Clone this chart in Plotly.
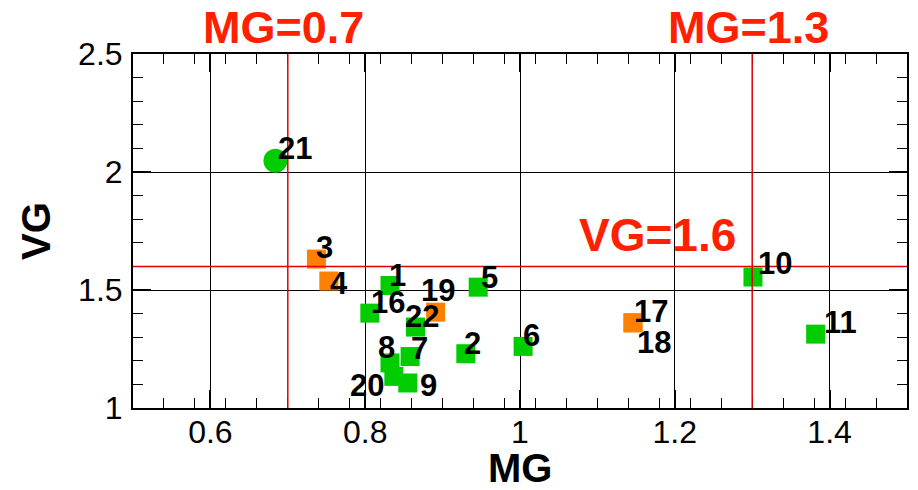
import plotly.graph_objects as go

# ---- data ----
labels = ["21", "3", "4", "1", "16", "19", "22", "5", "7", "2", "6", "8", "20", "9", "10", "17", "18", "11"]
mg = [0.684, 0.737, 0.753, 0.832, 0.806, 0.891, 0.865, 0.946, 0.858, 0.930, 1.004, 0.832, 0.837, 0.855, 1.301, 1.146, 1.146, 1.382]
vg = [2.048, 1.631, 1.538, 1.519, 1.402, 1.406, 1.343, 1.512, 1.218, 1.230, 1.261, 1.191, 1.134, 1.106, 1.555, 1.361, 1.361, 1.313]
groups = ["circle", "orange", "orange", "green", "green", "orange", "green", "green", "green", "green",
          "green", "green", "green", "green", "green", "orange", "orange", "green"]
mg_thresholds = [0.7, 1.3]
vg_threshold = 1.6
x_ticks = [0.6, 0.8, 1.0, 1.2, 1.4]
x_tick_text = ["0.6", "0.8", "1", "1.2", "1.4"]
y_ticks = [1, 1.5, 2, 2.5]
y_tick_text = ["1", "1.5", "2", "2.5"]

# label offsets in pixels (style)
label_shift = {
    "21": (20, 12), "3": (8, 12), "4": (10, -2), "1": (8, 10), "16": (18, 11),
    "19": (2, 22), "22": (6, 11), "5": (11, 10), "7": (9, 8), "2": (7, 10),
    "6": (8, 11), "8": (-3, 15), "20": (-27, -9), "9": (21, -3), "10": (22, 14),
    "17": (18, 11), "18": (21, -20), "11": (25, 12),
}

GREEN = "#00cc00"
ORANGE = "#ff8000"
RED = "#ff2000"
LINE_RED = "#e00000"
FONT = "Liberation Sans"

fig = go.Figure()

def subset(kind):
    xs = [x for x, g in zip(mg, groups) if g == kind]
    ys = [y for y, g in zip(vg, groups) if g == kind]
    return xs, ys

xs, ys = subset("green")
fig.add_trace(go.Scatter(x=xs, y=ys, mode="markers",
                         marker=dict(symbol="square", size=19, color=GREEN, line=dict(width=0))))
xs, ys = subset("orange")
fig.add_trace(go.Scatter(x=xs, y=ys, mode="markers",
                         marker=dict(symbol="square", size=19, color=ORANGE, line=dict(width=0))))
xs, ys = subset("circle")
fig.add_trace(go.Scatter(x=xs, y=ys, mode="markers",
                         marker=dict(symbol="circle", size=24, color=GREEN, line=dict(width=0))))

# reference lines
for t in mg_thresholds:
    fig.add_shape(type="line", x0=t, x1=t, y0=0, y1=1, xref="x", yref="paper",
                  line=dict(color=LINE_RED, width=1.5))
fig.add_shape(type="line", x0=0, x1=1, y0=vg_threshold, y1=vg_threshold, xref="paper", yref="y",
              line=dict(color=LINE_RED, width=1.5))

# point labels
for lab, x, y in zip(labels, mg, vg):
    dx, dy = label_shift[lab]
    fig.add_annotation(x=x, y=y, text=lab, showarrow=False, xanchor="center", yanchor="middle",
                       xshift=dx, yshift=dy,
                       font=dict(family=FONT, size=31, color="black", weight="bold"))

# threshold annotations
for t in mg_thresholds:
    fig.add_annotation(x=t, y=1, xref="x", yref="paper", text=f"MG={t}", showarrow=False,
                       xanchor="center", yanchor="middle", xshift=-4, yshift=27,
                       font=dict(family=FONT, size=45, color=RED, weight="bold"))
fig.add_annotation(x=1.177, y=1.731, xref="x", yref="y", text=f"VG={vg_threshold}", showarrow=False,
                   xanchor="center", yanchor="middle",
                   font=dict(family=FONT, size=46, color=RED, weight="bold"))

# axis titles
fig.add_annotation(x=0, y=0.5, xref="paper", yref="paper", text="VG", showarrow=False,
                   textangle=-90, xanchor="center", yanchor="middle", xshift=-97,
                   font=dict(family=FONT, size=40, color="black", weight="bold"))
fig.add_annotation(x=0.5, y=0, xref="paper", yref="paper", text="MG", showarrow=False,
                   xanchor="center", yanchor="middle", yshift=-60,
                   font=dict(family=FONT, size=40, color="black", weight="bold"))

axis_common = dict(
    showline=True, linecolor="black", linewidth=2, mirror="allticks",
    ticks="inside", ticklen=18, tickwidth=1.5, tickcolor="black",
    showgrid=True, gridcolor="black", gridwidth=1, zeroline=False,
    tickfont=dict(family=FONT, size=32, color="black"),
)

fig.update_xaxes(range=[0.5, 1.5], tickvals=x_ticks, ticktext=x_tick_text, ticklabelstandoff=-5,
                 minor=dict(ticks="inside", ticklen=10, dtick=0.04, tick0=0.5, tickcolor="black",
                            tickwidth=1, showgrid=False),
                 **axis_common)
fig.update_yaxes(range=[1, 2.5], tickvals=y_ticks, ticktext=y_tick_text, ticklabelstandoff=2,
                 minor=dict(ticks="inside", ticklen=10, dtick=0.1, tick0=1, tickcolor="black",
                            tickwidth=1, showgrid=False),
                 **axis_common)

# page body has an 8px default margin; size the figure to fill the 918x490 window
fig.update_layout(
    width=910, height=482,
    margin=dict(l=125, r=9, t=46, b=82),
    plot_bgcolor="white", paper_bgcolor="white",
    showlegend=False,
    font=dict(family=FONT),
)

fig.write_html("out.html")
